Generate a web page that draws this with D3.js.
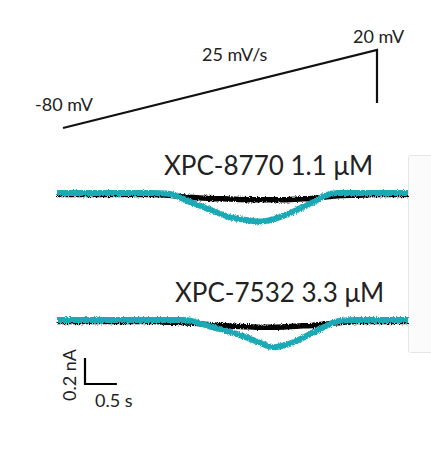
<!doctype html>
<html>
  <head>
    <script src="https://d3js.org/d3.v7.min.js"></script>
    <style>
      body { margin: 0; background: #fff; }
      text { font-family: Lato, "Open Sans", sans-serif; fill: #222; }
    </style>
  </head>
  <body>
    <script>
    // voltage protocol (s, mV)
    var rampTime = [0, 4, 4];
    var rampVolt = [-80, 20, -48];

    // current traces (s, nA)
    var traceTime = [0, 0.5, 1.0, 1.5, 1.75, 2.0, 2.2, 2.4, 2.7, 3.0, 3.2, 3.4, 3.6, 3.8, 4.0, 4.2, 4.4, 4.7, 5.0, 5.5];
    var ctrl1 = [0, 0, 0, 0, -0.005, -0.02, -0.025, -0.03, -0.035, -0.04, -0.04, -0.04, -0.04, -0.035, -0.03, -0.02, -0.01, -0.005, 0, 0];
    var drug1 = [0, 0, 0, 0, -0.005, -0.05, -0.09, -0.13, -0.185, -0.21, -0.22, -0.2, -0.165, -0.12, -0.075, -0.02, 0, 0, 0, 0];
    var ctrl2 = [0, 0, 0, 0, -0.005, -0.01, -0.015, -0.025, -0.035, -0.04, -0.045, -0.045, -0.04, -0.035, -0.03, -0.02, -0.01, 0, 0, 0];
    var drug2 = [0, 0, 0, 0, 0, 0, -0.02, -0.05, -0.09, -0.14, -0.18, -0.21, -0.19, -0.15, -0.1, -0.05, -0.01, 0, 0, 0];

    var labels = ["XPC-8770 1.1 \u03bcM", "XPC-7532 3.3 \u03bcM"];

    var width = 431;
    var height = 461;

    var svg = d3.select("body")
              .append("svg")
              .attr("width", width)
              .attr("height", height);

    var defs = svg.append("defs");
    var f = defs.append("filter").attr("id", "noise")
      .attr("x", "-5%").attr("y", "-50%").attr("width", "110%").attr("height", "200%");
    f.append("feTurbulence").attr("type", "fractalNoise")
      .attr("baseFrequency", "1.4 0.9").attr("numOctaves", 2).attr("seed", 3).attr("result", "t");
    f.append("feDisplacementMap").attr("in", "SourceGraphic").attr("in2", "t")
      .attr("scale", 3.5).attr("xChannelSelector", "R").attr("yChannelSelector", "G");

    // clipped panel on the right
    svg.append("rect")
      .attr("x", 408.5).attr("y", 155.5)
      .attr("width", 40).attr("height", 197)
      .attr("rx", 2)
      .attr("fill", "#fbfbfc")
      .attr("stroke", "#e6e6ea");

    // ramp protocol
    var xr = d3.scaleLinear().domain([0, 4]).range([63, 377]);
    var yr = d3.scaleLinear().domain([-80, 20]).range([128, 50]);
    var ramp = d3.line()
      .x(function(d, i) { return xr(rampTime[i]); })
      .y(function(d) { return yr(d); });

    svg.append("path")
      .datum(rampVolt)
      .attr("d", ramp)
      .attr("fill", "none")
      .attr("stroke", "#111")
      .attr("stroke-width", 2.2);

    svg.append("text").attr("x", 35).attr("y", 111).attr("font-size", 18).text("-80 mV");
    svg.append("text").attr("x", 202).attr("y", 61).attr("font-size", 18).text("25 mV/s");
    svg.append("text").attr("x", 353).attr("y", 43).attr("font-size", 18).text("20 mV");

    // traces
    var x = d3.scaleLinear().domain([0, 5.5]).range([57, 408]);
    var pxPerNA = 130;
    var panels = [
      { base: 193, ctrl: ctrl1, drug: drug1, label: labels[0], lx: 164, ly: 175 },
      { base: 320, ctrl: ctrl2, drug: drug2, label: labels[1], lx: 175, ly: 302 }
    ];

    panels.forEach(function(p) {
      var y = d3.scaleLinear().domain([-1, 1]).range([p.base + pxPerNA, p.base - pxPerNA]);
      var line = d3.line()
        .curve(d3.curveMonotoneX)
        .x(function(d, i) { return x(traceTime[i]); })
        .y(function(d) { return y(d); });

      var g = svg.append("g").attr("filter", "url(#noise)");
      g.append("path")
        .datum(p.ctrl)
        .attr("d", line)
        .attr("transform", "translate(0,1.5)")
        .attr("fill", "none")
        .attr("stroke", "#000")
        .attr("stroke-width", 5.5);
      g.append("path")
        .datum(p.drug)
        .attr("d", line)
        .attr("fill", "none")
        .attr("stroke", "#1aa9b6")
        .attr("stroke-width", 6);

      svg.append("text")
        .attr("x", p.lx).attr("y", p.ly)
        .attr("font-size", 26)
        .text(p.label);
    });

    // scale bar: 0.5 s, 0.2 nA
    var x0 = 85, y0 = 384;
    var sx = x(0.5) - x(0);
    var sy = 0.2 * pxPerNA;
    svg.append("path")
      .attr("d", "M" + x0 + "," + (y0 - sy) + "V" + y0 + "H" + (x0 + sx))
      .attr("fill", "none")
      .attr("stroke", "#000")
      .attr("stroke-width", 2.2);
    svg.append("text")
      .attr("transform", "translate(76,375) rotate(-90)")
      .attr("text-anchor", "middle")
      .attr("font-size", 18)
      .text("0.2 nA");
    svg.append("text").attr("x", 95).attr("y", 407).attr("font-size", 18).text("0.5 s");
    </script>
  </body>
</html>
